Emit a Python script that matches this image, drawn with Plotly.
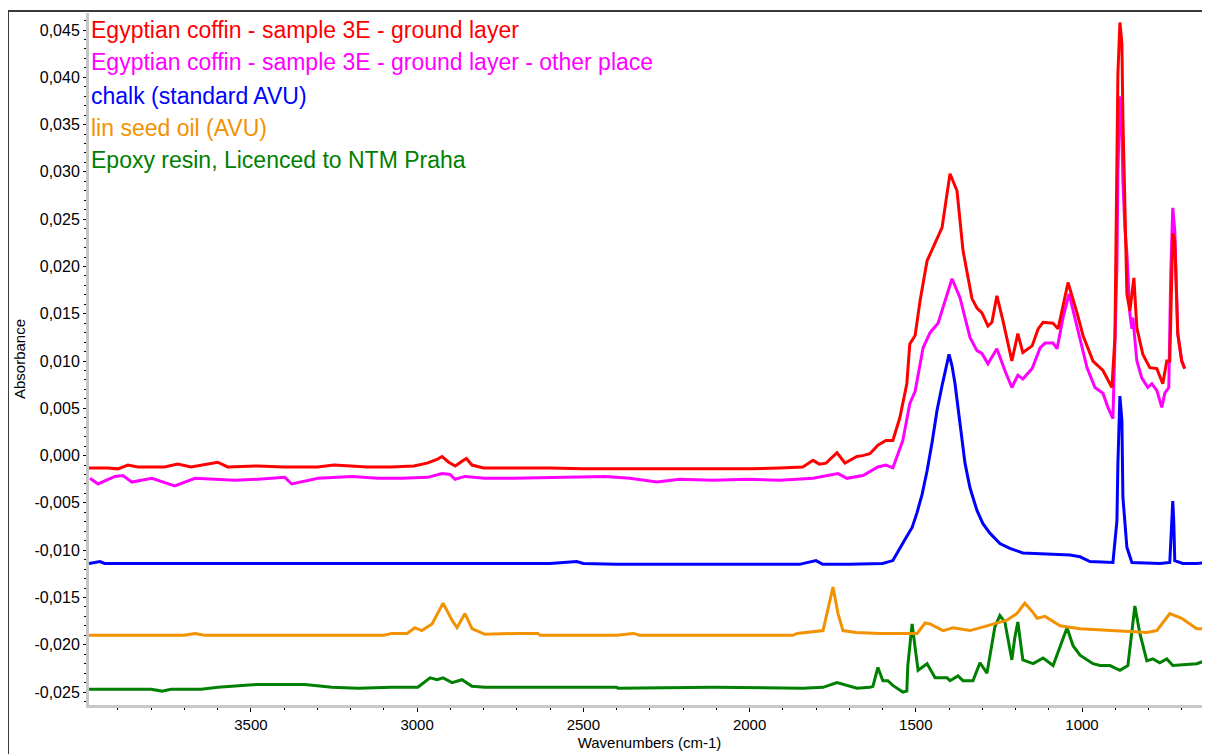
import plotly.graph_objects as go

# ---------------- data (wavenumber cm-1, absorbance) ----------------
red_wn = [3987, 3930, 3900, 3870, 3840, 3760, 3720, 3680, 3600, 3570, 3480, 3400, 3300, 3250,
          3150, 3080, 3010, 2970, 2940, 2925, 2905, 2885, 2865, 2852, 2835, 2800, 2700, 2600,
          2500, 2400, 2300, 2200, 2100, 2000, 1910, 1840, 1809, 1790, 1770, 1737, 1713, 1677,
          1660, 1638, 1614, 1590, 1569, 1548, 1527, 1518, 1502, 1487, 1466, 1436, 1421, 1406,
          1397, 1376, 1358, 1331, 1316, 1301, 1283, 1271, 1256, 1238, 1211, 1193, 1178, 1150,
          1132, 1117, 1087, 1072, 1042, 1015, 997, 967, 937, 910, 901, 895, 892, 886, 880, 877,
          871, 865, 856, 844, 835, 817, 796, 775, 757, 745, 736, 727, 721, 712, 700, 691]
red_ab = [-0.0013, -0.0013, -0.0014, -0.0010, -0.0012, -0.0012, -0.0009, -0.0012, -0.0007, -0.0012,
          -0.0011, -0.0012, -0.0012, -0.0010, -0.0012, -0.0012, -0.0011, -0.0008, -0.0004, -0.0001,
          -0.0007, -0.0011, -0.0006, -0.0003, -0.0010, -0.0013, -0.0013, -0.0013, -0.0014, -0.0014,
          -0.0014, -0.0014, -0.0014, -0.0014, -0.0013, -0.0012, -0.0005, -0.0009, -0.0008, 0.0003,
          -0.0008, -0.0001, 0.0000, 0.0002, 0.0011, 0.0016, 0.0016, 0.0040, 0.0076, 0.0118, 0.0127,
          0.0164, 0.0206, 0.0230, 0.0241, 0.0277, 0.0298, 0.0280, 0.0217, 0.0166, 0.0156, 0.0151,
          0.0137, 0.0141, 0.0169, 0.0143, 0.0100, 0.0129, 0.0109, 0.0116, 0.0134, 0.0141, 0.0140,
          0.0134, 0.0183, 0.0151, 0.0127, 0.0100, 0.0090, 0.0072, 0.0125, 0.0311, 0.0404, 0.0458,
          0.0436, 0.0357, 0.0270, 0.0171, 0.0153, 0.0188, 0.0135, 0.0107, 0.0093, 0.0092, 0.0076,
          0.0100, 0.0100, 0.0235, 0.0227, 0.0129, 0.0100, 0.0092]

mag_wn = [3984, 3960, 3909, 3885, 3858, 3798, 3729, 3668, 3548, 3479, 3398, 3377, 3298, 3196,
          3118, 3046, 2968, 2925, 2901, 2886, 2856, 2796, 2712, 2510, 2435, 2360, 2279, 2210,
          2110, 2008, 1909, 1809, 1734, 1707, 1659, 1614, 1590, 1569, 1539, 1518, 1502, 1478,
          1457, 1433, 1412, 1391, 1367, 1337, 1316, 1301, 1283, 1256, 1232, 1211, 1193, 1178,
          1150, 1126, 1111, 1087, 1075, 1057, 1039, 1015, 985, 961, 937, 922, 907, 895, 892,
          886, 880, 877, 871, 865, 856, 850, 847, 835, 820, 802, 790, 775, 760, 751, 739, 733,
          727, 721, 712, 700, 691]
mag_ab = [-0.0024, -0.0030, -0.0022, -0.0021, -0.0028, -0.0024, -0.0032, -0.0024, -0.0026, -0.0025,
          -0.0023, -0.0030, -0.0024, -0.0022, -0.0024, -0.0024, -0.0023, -0.0019, -0.0020, -0.0025,
          -0.0022, -0.0024, -0.0024, -0.0023, -0.0022, -0.0024, -0.0028, -0.0025, -0.0026, -0.0025,
          -0.0026, -0.0024, -0.0019, -0.0024, -0.0021, -0.0012, -0.0010, -0.0013, 0.0016, 0.0055,
          0.0068, 0.0114, 0.0130, 0.0140, 0.0164, 0.0187, 0.0167, 0.0125, 0.0111, 0.0108, 0.0097,
          0.0113, 0.0090, 0.0072, 0.0085, 0.0081, 0.0092, 0.0114, 0.0119, 0.0119, 0.0113, 0.0146,
          0.0171, 0.0137, 0.0093, 0.0072, 0.0066, 0.0051, 0.0039, 0.0200, 0.0300, 0.0380, 0.0340,
          0.0290, 0.0240, 0.0214, 0.0150, 0.0134, 0.0146, 0.0100, 0.0082, 0.0072, 0.0076, 0.0069,
          0.0051, 0.0066, 0.0072, 0.0193, 0.0262, 0.0238, 0.0129, 0.0100, 0.0092]

blue_wn = [3987, 3954, 3940, 3800, 3600, 3400, 3200, 3000, 2800, 2600, 2520, 2500, 2400, 2200,
           2000, 1850, 1800, 1780, 1700, 1600, 1569, 1548, 1533, 1511, 1496, 1481, 1466, 1451,
           1436, 1421, 1406, 1400, 1391, 1382, 1367, 1352, 1337, 1316, 1298, 1277, 1247, 1217,
           1178, 1096, 1036, 1006, 976, 907, 895, 892, 886, 880, 877, 865, 850, 766, 736, 730,
           727, 724, 721, 697, 655, 615]
blue_ab = [-0.0114, -0.0112, -0.0114, -0.0114, -0.0114, -0.0114, -0.0114, -0.0114, -0.0114, -0.0114,
           -0.0112, -0.0114, -0.0115, -0.0115, -0.0115, -0.0115, -0.0111, -0.0115, -0.0115, -0.0114,
           -0.0111, -0.0099, -0.0089, -0.0076, -0.0060, -0.0041, -0.0016, 0.0014, 0.0048, 0.0074,
           0.0100, 0.0107, 0.0095, 0.0076, 0.0034, -0.0008, -0.0034, -0.0058, -0.0072, -0.0082,
           -0.0093, -0.0098, -0.0103, -0.0104, -0.0105, -0.0107, -0.0112, -0.0113, -0.0069, -0.0008,
           0.0063, 0.0037, -0.0044, -0.0097, -0.0113, -0.0114, -0.0113, -0.0070, -0.0048, -0.0070,
           -0.0111, -0.0114, -0.0114, -0.0113]

oil_wn = [3987, 3700, 3668, 3640, 3100, 3076, 3030, 3007, 2986, 2955, 2922, 2895, 2880, 2856,
          2835, 2796, 2700, 2637, 2630, 2400, 2350, 2330, 1870, 1857, 1779, 1758, 1749, 1734,
          1719, 1680, 1608, 1496, 1472, 1457, 1418, 1388, 1337, 1286, 1226, 1196, 1172, 1147,
          1135, 1111, 1066, 1006, 907, 805, 775, 736, 700, 655, 615]
oil_ab = [-0.0190, -0.0190, -0.0188, -0.0190, -0.0190, -0.0188, -0.0188, -0.0182, -0.0185, -0.0178,
          -0.0156, -0.0174, -0.0182, -0.0167, -0.0183, -0.0189, -0.0188, -0.0188, -0.0190, -0.0190,
          -0.0188, -0.0190, -0.0190, -0.0188, -0.0185, -0.0153, -0.0139, -0.0167, -0.0185, -0.0187,
          -0.0188, -0.0188, -0.0177, -0.0178, -0.0185, -0.0182, -0.0185, -0.0180, -0.0174, -0.0167,
          -0.0156, -0.0166, -0.0172, -0.0170, -0.0180, -0.0183, -0.0185, -0.0187, -0.0185, -0.0167,
          -0.0172, -0.0183, -0.0183]

epoxy_wn = [3987, 3800, 3768, 3740, 3650, 3599, 3479, 3338, 3256, 3178, 3076, 2998, 2961, 2940,
            2922, 2895, 2865, 2835, 2796, 2400, 2396, 2110, 1839, 1779, 1737, 1677, 1638, 1629,
            1614, 1599, 1584, 1569, 1539, 1527, 1524, 1511, 1502, 1493, 1466, 1442, 1406, 1397,
            1373, 1358, 1328, 1307, 1286, 1262, 1247, 1232, 1211, 1202, 1193, 1178, 1147, 1117,
            1087, 1060, 1045, 1027, 1006, 967, 946, 916, 886, 862, 850, 841, 826, 805, 787, 766,
            745, 727, 655, 615]
epoxy_ab = [-0.0247, -0.0247, -0.0249, -0.0247, -0.0247, -0.0245, -0.0242, -0.0242, -0.0245, -0.0246,
            -0.0245, -0.0245, -0.0235, -0.0237, -0.0235, -0.0240, -0.0237, -0.0244, -0.0245, -0.0245,
            -0.0246, -0.0245, -0.0246, -0.0245, -0.0240, -0.0246, -0.0245, -0.0244, -0.0224, -0.0238,
            -0.0238, -0.0243, -0.0250, -0.0249, -0.0222, -0.0178, -0.0203, -0.0227, -0.0220, -0.0235,
            -0.0235, -0.0238, -0.0233, -0.0238, -0.0238, -0.0219, -0.0230, -0.0181, -0.0169, -0.0176,
            -0.0216, -0.0192, -0.0176, -0.0216, -0.0220, -0.0214, -0.0222, -0.0196, -0.0182, -0.0201,
            -0.0211, -0.0220, -0.0222, -0.0222, -0.0227, -0.0222, -0.0182, -0.0159, -0.0188, -0.0217,
            -0.0215, -0.0219, -0.0215, -0.0222, -0.0220, -0.0215]

series_names = ["Egyptian coffin - sample 3E - ground layer",
                "Egyptian coffin - sample 3E - ground layer - other place",
                "chalk (standard AVU)",
                "lin seed oil (AVU)",
                "Epoxy resin, Licenced to NTM Praha"]
series_colors = ["#ff0000", "#ff00ff", "#0000ff", "#f39200", "#008000"]

y_tick_vals = [-0.025, -0.020, -0.015, -0.010, -0.005, 0.000, 0.005, 0.010, 0.015,
               0.020, 0.025, 0.030, 0.035, 0.040, 0.045]
x_tick_vals = [3500, 3000, 2500, 2000, 1500, 1000]

# ---------------- figure ----------------
# the page body adds an 8 px margin, so the figure is laid out 8 px smaller
W, H = 1202, 746
L, R, T, B = 81, 0, 5, 49
pw, ph = W - L - R, H - T - B

FONT = "Liberation Sans, Arial, sans-serif"

fig = go.Figure()
data = [(red_wn, red_ab), (mag_wn, mag_ab), (blue_wn, blue_ab), (oil_wn, oil_ab), (epoxy_wn, epoxy_ab)]
for idx in [4, 3, 2, 1, 0]:
    wn, ab = data[idx]
    fig.add_trace(go.Scatter(x=wn, y=ab, mode="lines", name=series_names[idx],
                             line=dict(color=series_colors[idx], width=3), showlegend=False,
                             hoverinfo="skip"))

def ylabel(v):
    s = f"{abs(v):.3f}".replace(".", ",")
    return ("-" + s) if v < -1e-9 else s

fig.update_layout(
    width=W, height=H,
    margin=dict(l=L, r=R, t=T, b=B, autoexpand=False),
    paper_bgcolor="white", plot_bgcolor="white",
    font=dict(family=FONT, color="black", size=14),
    xaxis=dict(range=[3987, 615], showgrid=False, zeroline=False,
               showline=True, linecolor="#c8c8c8", linewidth=3,
               ticks="outside", ticklen=4, tickwidth=1, tickcolor="black",
               tickvals=x_tick_vals, ticktext=[str(v) for v in x_tick_vals],
               tickfont=dict(family=FONT, size=15),
               minor=dict(dtick=100, tick0=0, ticks="outside", ticklen=2, tickcolor="black"),
               title=dict(text="Wavenumbers (cm-1)", font=dict(family=FONT, size=15), standoff=6)),
    yaxis=dict(range=[-0.02637, 0.0468], showgrid=False, zeroline=False,
               showline=True, linecolor="#c8c8c8", linewidth=3,
               ticks="outside", ticklen=3, tickwidth=1, tickcolor="black",
               tickvals=y_tick_vals, ticktext=[ylabel(v) for v in y_tick_vals],
               tickfont=dict(family=FONT, size=16),
               minor=dict(dtick=0.001, tick0=0, ticks="outside", ticklen=2, tickcolor="black"),
               title=dict(text="Absorbance", font=dict(family=FONT, size=15), standoff=6)),
)

# text "legend" in the series colours (window y centres 30..160 -> figure y = window - 8)
legend_y_px = [22, 54, 88, 120, 152]
for name, col, ypx in zip(series_names, series_colors, legend_y_px):
    fig.add_annotation(xref="paper", yref="paper", x=0.0, y=(H - B - ypx) / ph,
                       xanchor="left", yanchor="middle", showarrow=False, text=name,
                       font=dict(family=FONT, size=23, color=col))

# dark window frame (left and top)
fx = (0 - L) / pw
fy = (H - B - 3) / ph
fig.add_shape(type="line", xref="paper", yref="paper", x0=fx, x1=fx, y0=fy, y1=(H - B - H - 5) / ph,
              line=dict(color="#3a3a3a", width=2))
fig.add_shape(type="line", xref="paper", yref="paper", x0=fx, x1=1.05, y0=fy, y1=fy,
              line=dict(color="#3a3a3a", width=2))

fig.write_html("out.html")
